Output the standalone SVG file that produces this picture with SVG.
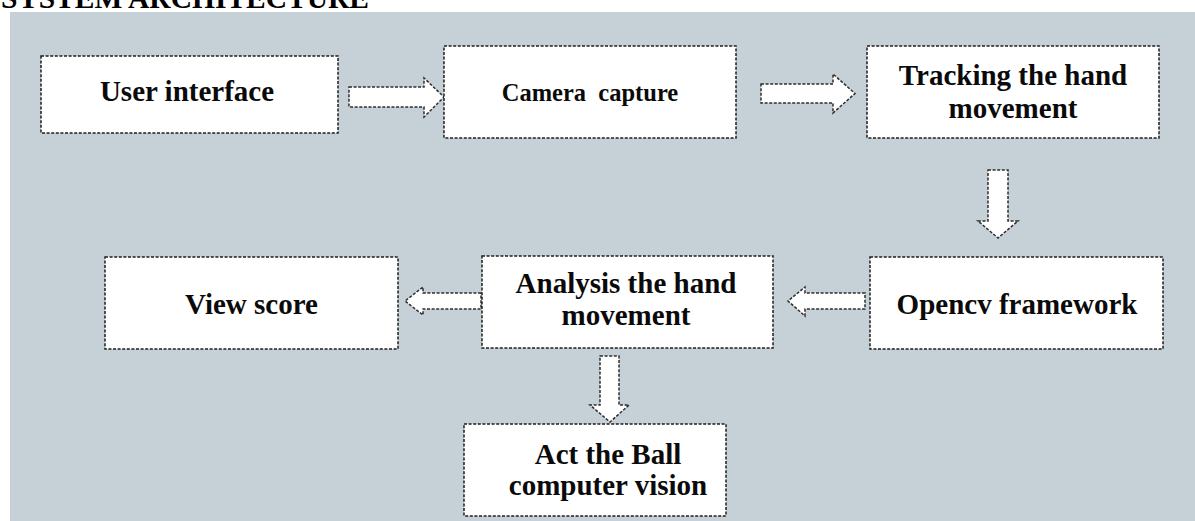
<svg xmlns="http://www.w3.org/2000/svg" width="1195" height="521" viewBox="0 0 1195 521">
  <style>
    .box { fill: #ffffff; stroke: #1e1e1e; stroke-width: 1.5; stroke-dasharray: 3 1.6; }
    .arrow { fill: #ffffff; stroke: #2e2e2e; stroke-width: 1.5; stroke-dasharray: 3 1.6; stroke-linejoin: miter; }
    .label { font-family: "Liberation Serif", "Times New Roman", serif; font-weight: bold; font-size: 29px; fill: #0a0a0a; text-anchor: middle; }
    .title { font-family: "Liberation Serif", "Times New Roman", serif; font-weight: bold; font-size: 29.5px; fill: #000000; }
  </style>

  <rect x="0" y="0" width="1195" height="521" fill="#ffffff"/>
  <text class="title" x="1" y="7.5">SYSTEM ARCHITECTURE</text>
  <rect x="10" y="12" width="1185" height="509" fill="#c5d0d7"/>

  <!-- block arrows between the stages -->
  <g id="connectors">
    <polygon class="arrow" points="349,87 424,87 424,78 444,97 424,117 424,107 349,107"/>
    <polygon class="arrow" points="761,84 833,84 833,74 855,93.5 833,113 833,103 761,103"/>
    <polygon class="arrow" points="988,170 1008,170 1008,221 1018,221 998,238 978,221 988,221"/>
    <polygon class="arrow" points="865,293 805,293 805,287 788,301 805,316 805,309 865,309"/>
    <polygon class="arrow" points="481,293 423,293 423,287 405,301 423,315 423,309 481,309"/>
    <polygon class="arrow" points="600,356 619,356 619,405 629,405 610,422 590,405 600,405"/>
  </g>

  <g id="user-interface">
    <rect class="box" x="41" y="56" width="297" height="77"/>
    <text class="label" x="187" y="101">User interface</text>
  </g>

  <g id="camera-capture">
    <rect class="box" x="444" y="46" width="292" height="92"/>
    <text class="label" x="590" y="101" style="font-size:24.5px" xml:space="preserve">Camera  capture</text>
  </g>

  <g id="tracking">
    <rect class="box" x="867" y="46" width="292" height="92"/>
    <text class="label" x="1013" y="85">Tracking the hand</text>
    <text class="label" x="1013" y="118">movement</text>
  </g>

  <g id="opencv">
    <rect class="box" x="870" y="257" width="293" height="92"/>
    <text class="label" x="1017" y="314">Opencv framework</text>
  </g>

  <g id="analysis">
    <rect class="box" x="482" y="256" width="291" height="92"/>
    <text class="label" x="626" y="293">Analysis the hand</text>
    <text class="label" x="626" y="325">movement</text>
  </g>

  <g id="view-score">
    <rect class="box" x="105" y="257" width="293" height="92"/>
    <text class="label" x="251.5" y="314">View score</text>
  </g>

  <g id="act-ball">
    <rect class="box" x="464" y="424" width="262" height="92"/>
    <text class="label" x="608" y="464">Act the Ball</text>
    <text class="label" x="608" y="495">computer vision</text>
  </g>
</svg>
